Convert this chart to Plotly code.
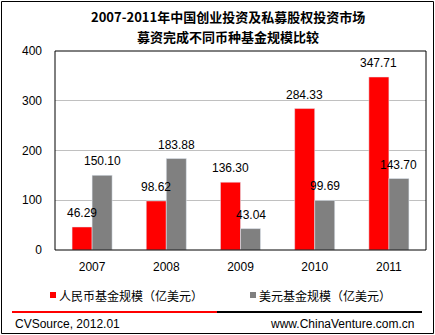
import plotly.graph_objects as go

years = ["2007", "2008", "2009", "2010", "2011"]
rmb = [46.29, 98.62, 136.30, 284.33, 347.71]
usd = [150.10, 183.88, 43.04, 99.69, 143.70]
rmb_name = "人民币基金规模（亿美元）"
usd_name = "美元基金规模（亿美元）"
title_lines = ["2007-2011年中国创业投资及私募股权投资市场", "募资完成不同币种基金规模比较"]
y_ticks = [0, 100, 200, 300, 400]

W, H = 435, 335
L, R, T, B = 55, 9, 51, 85
PW, PH = W - L - R, H - T - B
BARGAP = 0.46

def px(x):
    return (x - L) / PW

def py(y):
    return (H - B - y) / PH

FONT = "Liberation Sans, Arial, Noto Sans CJK SC, sans-serif"
CJK = "Noto Sans CJK SC, sans-serif"

fig = go.Figure()
fig.add_trace(go.Bar(x=years, y=rmb, name=rmb_name, marker_color="#ff0000", showlegend=False))
fig.add_trace(go.Bar(x=years, y=usd, name=usd_name, marker_color="#808080", showlegend=False))

shapes = []
# outer border
shapes.append(dict(type="rect", xref="paper", yref="paper", x0=px(1.5), x1=px(433.5),
                   y0=py(333.5), y1=py(1.5), line=dict(color="black", width=1), layer="below"))
# plot area border
shapes.append(dict(type="rect", xref="paper", yref="paper", x0=0, x1=1, y0=0, y1=1,
                   line=dict(color="black", width=1)))
# footer lines
shapes.append(dict(type="line", xref="paper", yref="paper", x0=px(12), x1=px(217),
                   y0=py(312), y1=py(312), line=dict(color="#ff0000", width=2)))
shapes.append(dict(type="line", xref="paper", yref="paper", x0=px(217), x1=px(422),
                   y0=py(312), y1=py(312), line=dict(color="black", width=2)))
# legend squares
shapes.append(dict(type="rect", xref="paper", yref="paper", x0=px(50), x1=px(56),
                   y0=py(298), y1=py(292), fillcolor="#ff0000", line=dict(width=0)))
shapes.append(dict(type="rect", xref="paper", yref="paper", x0=px(250), x1=px(256),
                   y0=py(298), y1=py(292), fillcolor="#808080", line=dict(width=0)))

def ann(text, x, y, xanchor="center", size=12, family=FONT):
    return dict(text=text, x=px(x), y=py(y), xref="paper", yref="paper",
                xanchor=xanchor, yanchor="middle", showarrow=False,
                font=dict(size=size, family=family, color="black"))

annotations = [
    ann("<b>" + title_lines[0] + "</b>", 228, 16, size=13, family=CJK),
    ann("<b>" + title_lines[1] + "</b>", 228, 36, size=13, family=CJK),
    ann(rmb_name, 57, 295, xanchor="left", family=CJK),
    ann(usd_name, 257, 295, xanchor="left", family=CJK),
    ann("CVSource, 2012.01", 13, 324, xanchor="left"),
    ann("www.ChinaVenture.com.cn", 416, 324, xanchor="right"),
]

# data labels drawn above all bars (category index on the x axis)
half_bar = PW / len(years) * (1 - BARGAP) / 4
for vals, sign in ((rmb, -1), (usd, 1)):
    for i, v in enumerate(vals):
        annotations.append(dict(text=f"{v:.2f}", x=i, y=v, xref="x", yref="y",
                                xshift=sign * half_bar, yshift=5, xanchor="center",
                                yanchor="bottom", showarrow=False,
                                font=dict(size=12, family=FONT, color="black")))

fig.update_layout(
    width=W, height=H,
    margin=dict(l=L, r=R, t=T, b=B),
    paper_bgcolor="white", plot_bgcolor="white",
    barmode="group", bargap=BARGAP, bargroupgap=0,
    font=dict(family=FONT, size=12, color="black"),
    shapes=shapes, annotations=annotations,
    xaxis=dict(type="category", categoryorder="array", categoryarray=years,
               range=[-0.5, len(years) - 0.5], autorange=False,
               showgrid=False, ticks="", tickfont=dict(size=12), showline=False,
               ticklabelstandoff=8),
    yaxis=dict(range=[0, 400], autorange=False, tickvals=y_ticks, showgrid=True,
               gridcolor="#c0c0c0", gridwidth=1, zeroline=False, ticks="",
               tickfont=dict(size=12), ticklabelstandoff=12),
)

fig.write_html("out.html")
